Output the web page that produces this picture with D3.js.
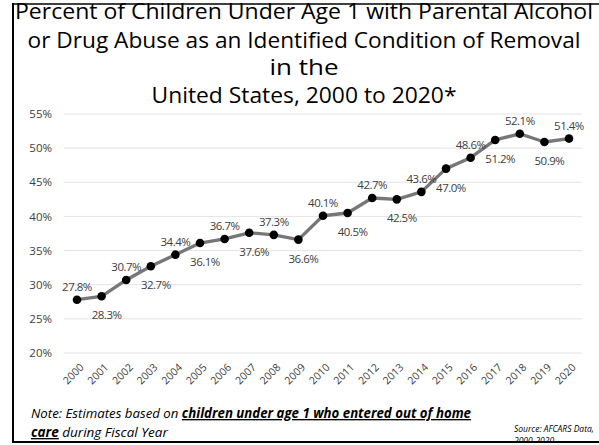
<!DOCTYPE html>
<html><head><meta charset="utf-8">
<script src="https://cdn.jsdelivr.net/npm/d3@7"></script>
<style>
html,body{margin:0;padding:0;background:#fff;}
svg{display:block;font-family:"Open Sans",sans-serif;}
</style></head>
<body><div id="chart"></div>
<script>
const years = ["2000","2001","2002","2003","2004","2005","2006","2007","2008","2009","2010","2011","2012","2013","2014","2015","2016","2017","2018","2019","2020"];
const percents = [27.8,28.3,30.7,32.7,34.4,36.1,36.7,37.6,37.3,36.6,40.1,40.5,42.7,42.5,43.6,47.0,48.6,51.2,52.1,50.9,51.4];
const yTicks = [20,25,30,35,40,45,50,55];
const titleLines = ["Percent of Children Under Age 1 with Parental Alcohol","or Drug Abuse as an Identified Condition of Removal","in the","United States, 2000 to 2020*"];
// label placement: a = above, b = below
const labelSide = ["a","b","a","b","a","b","a","b","a","b","a","b","a","b","a","b","a","b","a","b","a"];

const W = 599, H = 445;
const svg = d3.select("#chart").append("svg").attr("width", W).attr("height", H);

const x = d3.scalePoint().domain(years).range([77, 569]);
const y = d3.scaleLinear().domain([20, 55]).range([353, 114]);

// gridlines
svg.append("g").selectAll("line").data(yTicks).join("line")
  .attr("x1", 64).attr("x2", 582)
  .attr("y1", d => y(d)).attr("y2", d => y(d))
  .attr("stroke", "#e4e4e4").attr("stroke-width", 1);

// y axis
const yAxis = d3.axisLeft(y).tickValues(yTicks).tickFormat(d => d + "%").tickSize(0).tickPadding(0);
const gy = svg.append("g").attr("transform", "translate(52,0)").call(yAxis);
gy.select(".domain").remove();
gy.selectAll("text").attr("font-size", 11.5).attr("fill", "#404040").attr("font-family", "Open Sans");

// x axis
const xAxis = d3.axisBottom(x).tickSize(0).tickPadding(0);
const gx = svg.append("g").attr("transform", "translate(0,353)").call(xAxis);
gx.select(".domain").remove();
gx.selectAll("text")
  .attr("font-size", 10.5).attr("fill", "#404040").attr("font-family", "Open Sans")
  .attr("text-anchor", "end").attr("dy", null).attr("y", 0)
  .attr("transform", "translate(7,15) rotate(-45)");

// line
const line = d3.line().x((d, i) => x(years[i])).y(d => y(d));
svg.append("path").datum(percents).attr("d", line)
  .attr("fill", "none").attr("stroke", "#777").attr("stroke-width", 3.3).attr("stroke-linejoin", "round");

svg.append("g").selectAll("circle").data(percents).join("circle")
  .attr("cx", (d, i) => x(years[i])).attr("cy", d => y(d)).attr("r", 4.3).attr("fill", "#000");

// data labels
svg.append("g").selectAll("text").data(percents).join("text")
  .attr("x", (d, i) => x(years[i]) + (labelSide[i] === "b" ? 5 : 0))
  .attr("y", (d, i) => y(d) + (labelSide[i] === "a" ? -9 : 23))
  .attr("text-anchor", "middle").attr("font-size", 11.5).attr("letter-spacing", -0.5)
  .attr("fill", "#404040")
  .text(d => d.toFixed(1) + "%");

// title
const titleY = [19, 48, 75, 103];
const titleW = [578, 553, 69, 305];
svg.append("g").selectAll("text").data(titleLines).join("text")
  .attr("x", 304).attr("y", (d, i) => titleY[i])
  .attr("text-anchor", "middle").attr("font-size", 21).attr("fill", "#000")
  .attr("textLength", (d, i) => titleW[i]).attr("lengthAdjust", "spacingAndGlyphs")
  .text(d => d);

// footnote
const note1 = svg.append("text").attr("x", 31).attr("y", 418).attr("font-size", 13.5).attr("font-style", "italic").attr("fill", "#000")
  .attr("textLength", 440).attr("lengthAdjust", "spacingAndGlyphs");
note1.append("tspan").text("Note: Estimates based on ");
note1.append("tspan").attr("font-weight", "bold").attr("text-decoration", "underline").text("children under age 1 who entered out of home");
const note2 = svg.append("text").attr("x", 31).attr("y", 437).attr("font-size", 13.5).attr("font-style", "italic").attr("fill", "#000");
note2.append("tspan").attr("font-weight", "bold").attr("text-decoration", "underline").text("care");
note2.append("tspan").text(" during Fiscal Year");

svg.append("text").attr("x", 514).attr("y", 432).attr("font-size", 8.5).attr("font-style", "italic").attr("fill", "#000").text("Source: AFCARS Data,");
svg.append("text").attr("x", 514).attr("y", 444).attr("font-size", 8.5).attr("font-style", "italic").attr("fill", "#000").text("2000-2020");

// frame
svg.append("rect").attr("x", 0).attr("y", 443).attr("width", W).attr("height", 2).attr("fill", "#fff");
svg.append("line").attr("x1", 13).attr("x2", 13).attr("y1", 3).attr("y2", 443).attr("stroke", "#000").attr("stroke-width", 2);
svg.append("line").attr("x1", 12).attr("x2", W).attr("y1", 4).attr("y2", 4).attr("stroke", "#000").attr("stroke-width", 1.5);
svg.append("line").attr("x1", 12).attr("x2", W).attr("y1", 442).attr("y2", 442).attr("stroke", "#000").attr("stroke-width", 2);
</script></body></html>
